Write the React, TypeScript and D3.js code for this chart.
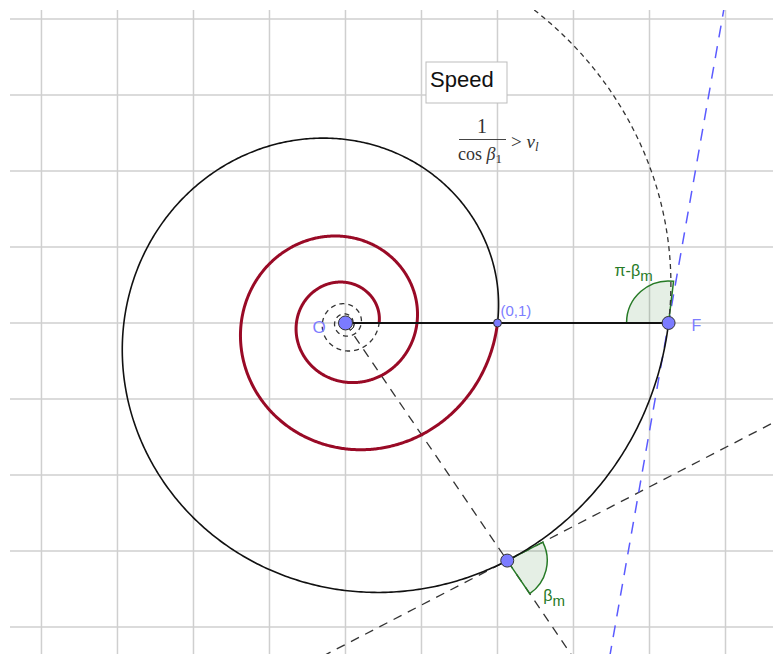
import React from 'react';
import * as d3 from 'd3';

// --- figure data (units: 1 = radius of the start point) ---
const spiralK = 0.12;                        // r = e^(k·θ)
const redRange = [-4 * Math.PI, 0];          // inner spiral, solid red
const innerDashRange = [-8 * Math.PI, -4 * Math.PI];
const blackRange = [0, 2 * Math.PI];         // outer spiral, solid black
const outerDashRange = [2 * Math.PI, 2 * Math.PI + 1.3];
const thetaP = 5.31;                         // lower point on the spiral
const thetaF = 2 * Math.PI;                  // point F
const blueLineDeg = 80;                      // dashed blue line through F
const gridStep = 0.5;
const gridX = d3.range(-2, 2.51, gridStep);
const gridY = d3.range(-2, 2.01, gridStep);
const xDomain = [-2.207, 2.8125];
const yDomain = [-2.178, 2.059];

const W = 773, H = 654;
const BLUE_PT = '#7b7bff';
const BLUE_TXT = '#7d7dff';
const GREEN = '#267a26';
const RED = '#990a26';

const x = d3.scaleLinear().domain(xDomain).range([10, W]);
const y = d3.scaleLinear().domain(yDomain).range([H, 10]);

const polar = (t: number): [number, number] => {
  const r = Math.exp(spiralK * t);
  return [r * Math.cos(t), r * Math.sin(t)];
};

const line = d3.line<[number, number]>().x(d => x(d[0])).y(d => y(d[1]));
const spiralPath = (range: number[]) => {
  const pts = d3.range(range[0], range[1], 0.01).map(polar);
  pts.push(polar(range[1]));
  return line(pts) || '';
};

function App() {
  const beta = Math.atan(1 / spiralK);
  const O: [number, number] = [0, 0];
  const A = polar(0);
  const F = polar(thetaF);
  const P = polar(thetaP);

  // ray O -> P, tangent at P, blue line at F
  const rayEnd: [number, number] = [P[0] * 4, P[1] * 4];
  const tA = thetaP + beta;
  const tan1: [number, number] = [P[0] - 6 * Math.cos(tA), P[1] - 6 * Math.sin(tA)];
  const tan2: [number, number] = [P[0] + 6 * Math.cos(tA), P[1] + 6 * Math.sin(tA)];
  const bA = (blueLineDeg * Math.PI) / 180;
  const blue1: [number, number] = [F[0] - 5 * Math.cos(bA), F[1] - 5 * Math.sin(bA)];
  const blue2: [number, number] = [F[0] + 5 * Math.cos(bA), F[1] + 5 * Math.sin(bA)];

  // angle sectors (d3 angles: clockwise from 12 o'clock)
  const toD3 = (a: number) => Math.PI / 2 - a;
  const arcF = d3.arc()({ innerRadius: 0, outerRadius: 42, startAngle: toD3(Math.PI), endAngle: toD3(beta) } as any) || '';
  const arcP = d3.arc()({ innerRadius: 0, outerRadius: 40, startAngle: toD3(thetaP + beta), endAngle: toD3(thetaP) } as any) || '';
  const arcO = d3.arc()({ innerRadius: 9, outerRadius: 9, startAngle: toD3(0), endAngle: toD3(thetaP - 2 * Math.PI) } as any) || '';

  const serif = '"Liberation Serif", "DejaVu Serif", serif';
  const sans = '"Liberation Sans", Arial, sans-serif';

  return (
    <svg width={W} height={H} style={{ position: 'absolute', left: 0, top: 0, background: '#fff' }}>
      <defs>
        <clipPath id="view"><rect x={10} y={10} width={W - 10} height={H - 10} /></clipPath>
      </defs>
      <g clipPath="url(#view)">
        {/* grid */}
        {gridX.map(v => (
          <line key={'gx' + v} x1={x(v)} x2={x(v)} y1={10} y2={H} stroke="#cfcfcf" strokeWidth={1.5} />
        ))}
        {gridY.map(v => (
          <line key={'gy' + v} x1={10} x2={W} y1={y(v)} y2={y(v)} stroke="#cfcfcf" strokeWidth={1.5} />
        ))}

        {/* speed box + formula */}
        <rect x={426} y={62} width={81} height={41} fill="#fff" stroke="#bdbdbd" strokeWidth={1} />
        <text x={430} y={87} fontFamily={sans} fontSize={22} fill="#111">Speed</text>
        <g fontFamily={serif} fill="#333">
          <text x={482} y={133} fontSize={20} textAnchor="middle">1</text>
          <line x1={459} x2={506} y1={139.5} y2={139.5} stroke="#444" strokeWidth={1} />
          <text x={458} y={160} fontSize={18}>cos <tspan fontStyle="italic">β</tspan><tspan fontSize={13} dy={3}>1</tspan></text>
          <text x={511} y={148} fontSize={19}>{'>'} <tspan fontStyle="italic">v</tspan><tspan fontSize={13} fontStyle="italic" dy={3}>l</tspan></text>
        </g>

        {/* dashed construction lines */}
        <path d={line([O, rayEnd]) || ''} stroke="#333" strokeWidth={1.3} strokeDasharray="9,7" fill="none" />
        <path d={line([tan1, tan2]) || ''} stroke="#333" strokeWidth={1.3} strokeDasharray="9,7" fill="none" />
        <path d={line([blue1, blue2]) || ''} stroke="#5b5bff" strokeWidth={1.5} strokeDasharray="12,9" fill="none" />

        {/* angles */}
        <path d={arcF} transform={`translate(${x(F[0])},${y(F[1])})`} fill="rgba(38,122,38,0.12)" stroke={GREEN} strokeWidth={1.5} />
        <path d={arcP} transform={`translate(${x(P[0])},${y(P[1])})`} fill="rgba(38,122,38,0.12)" stroke={GREEN} strokeWidth={1.5} />
        <path d={arcO} transform={`translate(${x(0)},${y(0)})`} fill="none" stroke="#333" strokeWidth={1} />

        {/* spirals */}
        <path d={spiralPath(innerDashRange)} stroke="#333" strokeWidth={1.3} strokeDasharray="5,4" fill="none" />
        <path d={spiralPath(outerDashRange)} stroke="#333" strokeWidth={1.3} strokeDasharray="5,4" fill="none" />
        <path d={spiralPath(redRange)} stroke={RED} strokeWidth={3} fill="none" />
        <path d={spiralPath(blackRange)} stroke="#111" strokeWidth={1.6} fill="none" />

        {/* segment O-F */}
        <path d={line([O, F]) || ''} stroke="#111" strokeWidth={2} fill="none" />

        {/* points */}
        <circle cx={x(A[0])} cy={y(A[1])} r={4} fill={BLUE_PT} stroke="#333" strokeWidth={1} />
        <circle cx={x(O[0])} cy={y(O[1])} r={7} fill={BLUE_PT} stroke="#333" strokeWidth={1} />
        <circle cx={x(F[0])} cy={y(F[1])} r={6.5} fill={BLUE_PT} stroke="#333" strokeWidth={1} />
        <circle cx={x(P[0])} cy={y(P[1])} r={6.5} fill={BLUE_PT} stroke="#333" strokeWidth={1} />

        {/* labels */}
        <g fontFamily={sans}>
          <text x={x(O[0]) - 33} y={y(O[1]) + 10} fontSize={17} fill={BLUE_TXT}>O</text>
          <text x={x(A[0]) + 3} y={y(A[1]) - 7} fontSize={15} fill={BLUE_TXT}>(0,1)</text>
          <text x={x(F[0]) + 23} y={y(F[1]) + 8} fontSize={16} fill={BLUE_TXT}>F</text>
          <text x={x(F[0]) - 54} y={y(F[1]) - 47} fontSize={16} fill={GREEN}>π-β<tspan fontSize={15} dy={5}>m</tspan></text>
          <text x={x(P[0]) + 36} y={y(P[1]) + 40} fontSize={16} fill={GREEN}>β<tspan fontSize={15} dy={5}>m</tspan></text>
        </g>
      </g>
    </svg>
  );
}

export default App;
